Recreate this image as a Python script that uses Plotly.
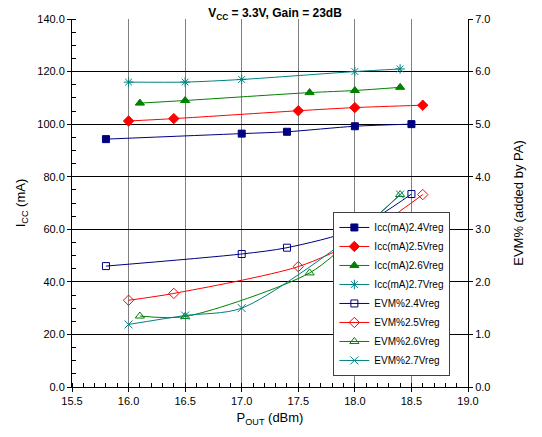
import plotly.graph_objects as go

# ---- data ----
x_24 = [15.8, 17.0, 17.4, 18.0, 18.5]
x_25 = [16.0, 16.4, 17.5, 18.0, 18.6]
x_26 = [16.1, 16.5, 17.6, 18.0, 18.4]
x_27 = [16.0, 16.5, 17.0, 18.0, 18.4]

icc_24 = [94.3, 96.4, 97.1, 99.2, 100.0]
icc_25 = [101.2, 102.1, 105.1, 106.3, 107.2]
icc_26 = [108.0, 109.0, 112.0, 112.8, 114.0]
icc_27 = [116.0, 116.0, 117.0, 120.0, 121.0]

evm_24 = [2.30, 2.53, 2.65, 3.00, 3.67]
evm_25 = [1.65, 1.78, 2.29, 2.77, 3.66]
evm_26 = [1.35, 1.34, 2.17, 2.87, 3.66]
evm_27 = [1.19, 1.36, 1.50, 2.91, 3.66]

x_ticks = [15.5, 16.0, 16.5, 17.0, 17.5, 18.0, 18.5, 19.0]

NAVY, RED, GREEN, TEAL = "#000080", "#FF0000", "#008000", "#008080"

fig = go.Figure()

def add(x, y, name, color, symbol, yaxis, size=7, lw=1):
    fig.add_trace(go.Scatter(
        x=x, y=y, name=name, yaxis=yaxis, mode="lines+markers",
        line=dict(color=color, width=1, shape="spline", smoothing=0.8),
        marker=dict(symbol=symbol, size=size, color=color,
                    line=dict(color=color, width=lw)),
    ))

add(x_24, icc_24, "Icc(mA)2.4Vreg", NAVY, "square", "y", 7)
add(x_25, icc_25, "Icc(mA)2.5Vreg", RED, "diamond", "y", 8)
add(x_26, icc_26, "Icc(mA)2.6Vreg", GREEN, "triangle-up", "y", 8)
add(x_27, icc_27, "Icc(mA)2.7Vreg", TEAL, "asterisk-open", "y", 8)
add(x_24, evm_24, "EVM%2.4Vreg", NAVY, "square-open", "y2", 7)
add(x_25, evm_25, "EVM%2.5Vreg", RED, "diamond-open", "y2", 8)
add(x_26, evm_26, "EVM%2.6Vreg", GREEN, "triangle-up-open", "y2", 8)
add(x_27, evm_27, "EVM%2.7Vreg", TEAL, "x-thin-open", "y2", 8)

font = "Liberation Sans, Arial, sans-serif"

# page body has an 8px margin, so the figure is sized to fit the window
fig.update_layout(
    width=534, height=429,
    margin=dict(l=64, r=74, t=11, b=50, autoexpand=False),
    paper_bgcolor="white", plot_bgcolor="white",
    font=dict(family=font, size=11, color="#000"),
    title=dict(text="<b>V<sub>CC</sub> = 3.3V, Gain = 23dB</b>",
               x=0.5, xanchor="center", y=0.998, yanchor="top", pad=dict(t=0),
               font=dict(size=12, family=font)),
    showlegend=True,
    legend=dict(x=0.66, y=0.03, xanchor="left", yanchor="bottom",
                bgcolor="white", bordercolor="#404040", borderwidth=1,
                font=dict(size=10, family=font), tracegroupgap=0,
                itemwidth=30),
    xaxis=dict(range=[15.5, 19.0], tickvals=x_ticks, tickformat=".1f",
               automargin=False,
               showgrid=True, gridcolor="#808080", gridwidth=1,
               showline=True, linecolor="#000", linewidth=1,
               ticks="outside", ticklen=4, tickcolor="#000",
               minor=dict(dtick=0.1, ticks="inside", ticklen=4, tickcolor="#000", showgrid=False),
               zeroline=False, tickfont=dict(size=11),
               title=dict(text="P<sub>OUT</sub> (dBm)", font=dict(size=13), standoff=6)),
    yaxis=dict(range=[0, 140], dtick=20, tickformat=".1f",
               automargin=False,
               showgrid=True, gridcolor="#000", gridwidth=1,
               showline=True, linecolor="#000", linewidth=1,
               ticks="outside", ticklen=4, tickcolor="#000",
               minor=dict(dtick=5, ticks="inside", ticklen=4, tickcolor="#000", showgrid=False),
               zeroline=False, tickfont=dict(size=11),
               title=dict(text="I<sub>CC</sub> (mA)", font=dict(size=13), standoff=8)),
    yaxis2=dict(range=[0, 7], dtick=1, tickformat=".1f", overlaying="y", side="right",
                automargin=False,
                showgrid=False, showline=True, linecolor="#000", linewidth=1,
                ticks="outside", ticklen=4, tickcolor="#000",
                zeroline=False, tickfont=dict(size=11),
                title=dict(text="EVM% (added by PA)", font=dict(size=13), standoff=24)),
)

fig.write_html("out.html")
